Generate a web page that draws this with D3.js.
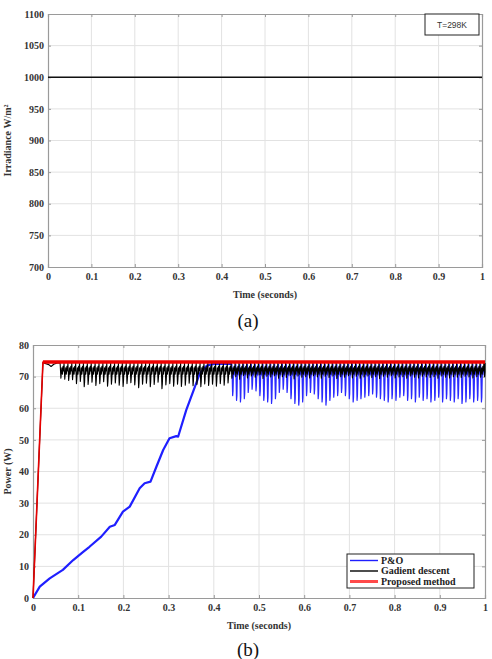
<!DOCTYPE html>
<html>
<head>
<meta charset="utf-8">
<script src="https://cdn.jsdelivr.net/npm/d3@7"></script>
<style>
  body { margin: 0; background: #fff; }
  svg text { font-family: "Liberation Serif", "DejaVu Serif", "Times New Roman", serif !important; }
  svg text.sans { font-family: "Liberation Sans", "DejaVu Sans", Arial, sans-serif !important; }
</style>
</head>
<body>
<div id="container"></div>
<script>
// ---- data ----
const timeTicks = [0, 0.1, 0.2, 0.3, 0.4, 0.5, 0.6, 0.7, 0.8, 0.9, 1];
const irrTicks = [700, 750, 800, 850, 900, 950, 1000, 1050, 1100];
const powerTicks = [0, 10, 20, 30, 40, 50, 60, 70, 80];

// irradiance, constant
const irrT = [0, 1];
const irrV = [1000, 1000];

// proposed method
const propT = [0, 0.022, 1];
const propP = [0, 74.6, 74.6];

// gradient descent: ramp, small dip, then spikes every 0.0086 s from 0.06 s
const gdStartT = [0, 0.022, 0.035, 0.04, 0.046, 0.055];
const gdStartP = [0, 74.4, 73.8, 73.2, 73.9, 74.4];
const gdSpikeStart = 0.06;
const gdSpikeStep = 0.0086;
const gdPeak = 74.3;
const gdTrough = [
  69.5, 69.2, 68.8, 69.0, 67.8, 68.5, 66.8, 67.5, 68.2, 67.2,
  67.8, 68.4, 67.0, 67.6, 68.0, 67.3, 66.9, 67.8, 68.1, 67.4,
  66.5, 67.6, 67.9, 66.8, 67.5, 68.2, 66.2, 67.4, 67.8, 67.0,
  67.6, 66.9, 67.3, 67.9, 67.1, 67.5, 66.8, 67.7, 67.2, 67.6,
  67.0, 67.8, 67.3, 68.0, 69.5, 70.0, 69.2, 70.4, 69.6, 70.2,
  69.8, 70.5, 69.4, 70.1, 69.9, 70.3, 69.5, 70.0, 69.7, 70.4,
  69.3, 70.2, 69.8, 70.0, 69.6, 70.3, 69.9, 69.5, 70.1, 69.7,
  70.2, 69.4, 70.0, 69.8, 70.3, 69.6, 70.1, 69.5, 69.9, 70.2,
  69.7, 70.0, 69.4, 70.1, 69.8, 70.3, 69.6, 69.9, 70.0, 69.5,
  70.2, 69.8, 69.6, 70.1, 69.9, 69.7, 70.0, 69.5, 70.2, 69.8,
  69.6, 70.0, 69.8, 69.7, 70.1, 69.9, 69.6, 70.0, 69.8, 70.0
];

// P&O: slow ramp, then oscillation from 0.44 s
const poRampT = [0, 0.015, 0.037, 0.066, 0.089, 0.111, 0.125, 0.151, 0.170, 0.181,
  0.199, 0.214, 0.236, 0.247, 0.260, 0.273, 0.288, 0.302, 0.317, 0.321,
  0.339, 0.361, 0.369, 0.385, 0.40, 0.44];
const poRampP = [0, 3.6, 6.2, 8.9, 12.0, 14.6, 16.2, 19.4, 22.5, 23.1,
  27.3, 28.9, 34.7, 36.3, 36.8, 41.5, 46.8, 50.5, 51.2, 51.0,
  59.4, 67.9, 71.0, 73.5, 74.0, 74.0];
const poSpikeStart = 0.44;
const poSpikeStep = 0.0086;
const poPeak = 74.0;
const poTrough = [
  64.0, 62.5, 62.0, 63.0, 65.0, 66.0, 65.5, 64.0, 62.5, 62.0,
  61.5, 63.0, 65.0, 66.0, 65.0, 63.0, 61.5, 61.0, 62.0, 64.0,
  65.0, 64.5, 63.0, 62.0, 61.0, 62.5, 63.5, 64.0, 65.0, 64.0,
  63.0, 62.0, 62.5, 63.0, 63.5, 64.0, 64.5, 63.5, 63.0, 62.5,
  62.0, 63.0, 62.5, 63.5, 64.0, 62.5, 63.0, 62.0, 63.5, 62.5,
  63.0, 62.0, 62.5, 63.5, 62.0, 63.0, 62.5, 62.0, 63.0, 61.5,
  62.0, 63.0, 62.0, 62.5, 62.0, 61.5
];

const legendNames = ["P&O", "Gadient descent", "Proposed method"];
const legendColors = ["#1f1fff", "#000", "#ff4a4a"];

// ---- build series ----
// one spike per step: drop to the trough, recover, then a dense ripple band near the top
function spikes(startT, step, peak, troughs) {
  const out = [];
  troughs.forEach((tr, i) => {
    const t0 = startT + i * step;
    out.push([t0, peak], [t0 + step * 0.2, tr], [t0 + step * 0.3, tr + 1.5],
      [t0 + step * 0.45, peak - 1.5], [t0 + step * 0.6, peak - 3.5],
      [t0 + step * 0.75, peak - 1], [t0 + step * 0.9, peak - 2.5]);
  });
  return out;
}

const irrData = irrT.map((t, i) => [t, irrV[i]]);
const propData = propT.map((t, i) => [t, propP[i]]);
const gdData = gdStartT.map((t, i) => [t, gdStartP[i]])
  .concat(spikes(gdSpikeStart, gdSpikeStep, gdPeak, gdTrough))
  .filter(d => d[0] <= 1);
gdData.push([1, gdPeak]);
const poRamp = poRampT.map((t, i) => [t, poRampP[i]]);
const poOsc = spikes(poSpikeStart, poSpikeStep, poPeak, poTrough).filter(d => d[0] <= 1);
poOsc.push([1, poPeak]);

// ---- drawing ----
const W = 492, H = 659;
const svg = d3.select("#container").append("svg")
  .attr("width", W).attr("height", H);

function panel(box, yDomain, yTicks, yLabel) {
  const x = d3.scaleLinear().domain([0, 1]).range([box.left, box.right]);
  const y = d3.scaleLinear().domain(yDomain).range([box.bottom, box.top]);
  const g = svg.append("g");

  // grid
  g.append("g").selectAll("line").data(timeTicks.slice(1, -1)).join("line")
    .attr("x1", d => x(d)).attr("x2", d => x(d))
    .attr("y1", box.top).attr("y2", box.bottom)
    .attr("stroke", "#e2e2e2").attr("stroke-width", 1);
  g.append("g").selectAll("line").data(yTicks.slice(1, -1)).join("line")
    .attr("y1", d => y(d)).attr("y2", d => y(d))
    .attr("x1", box.left).attr("x2", box.right)
    .attr("stroke", "#e2e2e2").attr("stroke-width", 1);

  // axes (MATLAB style, ticks inward)
  const xa = d3.axisBottom(x).tickValues(timeTicks).tickSize(-3).tickPadding(6)
    .tickFormat(d => d === 0 ? "0" : d === 1 ? "1" : d3.format(".1f")(d));
  const ya = d3.axisLeft(y).tickValues(yTicks).tickSize(-3).tickPadding(4).tickFormat(d3.format("d"));
  const gx = g.append("g").attr("transform", `translate(0,${box.bottom})`).call(xa);
  const gy = g.append("g").attr("transform", `translate(${box.left},0)`).call(ya);
  g.append("g").attr("transform", `translate(0,${box.top})`)
    .call(d3.axisTop(x).tickValues(timeTicks).tickSize(-3).tickFormat(""));
  g.append("g").attr("transform", `translate(${box.right},0)`)
    .call(d3.axisRight(y).tickValues(yTicks).tickSize(-3).tickFormat(""));
  g.selectAll(".domain").attr("stroke", "#9a9a9a").attr("stroke-width", 1.2);
  g.selectAll(".tick line").attr("stroke", "#9a9a9a");
  [gx, gy].forEach(a => a.selectAll("text")
    .attr("font-weight", "bold").attr("font-size", 10).attr("fill", "#333"));

  g.append("text")
    .attr("x", (box.left + box.right) / 2).attr("y", box.bottom + 31)
    .attr("text-anchor", "middle").attr("font-weight", "bold")
    .attr("font-size", 10).attr("fill", "#333").text("Time (seconds)");
  g.append("text")
    .attr("transform", `translate(11,${(box.top + box.bottom) / 2}) rotate(-90)`)
    .attr("text-anchor", "middle").attr("font-weight", "bold")
    .attr("font-size", 10).attr("fill", "#333").text(yLabel);

  const line = d3.line().x(d => x(d[0])).y(d => y(d[1]));
  return { x, y, g, line };
}

// (a) irradiance
const pa = panel({ left: 48, right: 482, top: 14, bottom: 267 }, [700, 1100], irrTicks, "Irradiance W/m²");
pa.g.append("path").datum(irrData).attr("d", pa.line)
  .attr("fill", "none").attr("stroke", "#111").attr("stroke-width", 1.5);
pa.g.append("rect").attr("x", 425).attr("y", 14).attr("width", 54).attr("height", 21)
  .attr("fill", "#fff").attr("stroke", "#222").attr("stroke-width", 1);
pa.g.append("text").attr("class", "sans").attr("x", 452).attr("y", 28).attr("text-anchor", "middle")
  .attr("font-size", 8.5).attr("fill", "#333").text("T=298K");
svg.append("text").attr("x", 248).attr("y", 327).attr("text-anchor", "middle")
  .attr("font-size", 19).attr("fill", "#111").text("(a)");

// (b) power
const pb = panel({ left: 33, right: 485, top: 345, bottom: 598 }, [0, 80], powerTicks, "Power (W)");
const series = [
  { data: poRamp, color: "#1f1fff", w: 2.2 },
  { data: poOsc, color: "#2a2aff", w: 1.2 },
  { data: gdData, color: "#000", w: 1.1 },
  { data: propData, color: "#e80000", w: 1.6 },
  { data: propData.slice(1), color: "#ee0000", w: 3.5 }
];
pb.g.append("g").selectAll("path").data(series).join("path")
  .attr("d", d => pb.line(d.data))
  .attr("fill", "none").attr("stroke", d => d.color).attr("stroke-width", d => d.w)
  .attr("stroke-linejoin", "round");

// legend
const lg = pb.g.append("g").attr("transform", "translate(347,554)");
lg.append("rect").attr("width", 127).attr("height", 34)
  .attr("fill", "#fff").attr("stroke", "#222").attr("stroke-width", 1);
legendNames.forEach((name, i) => {
  const yy = 6.5 + i * 10.5;
  lg.append("line").attr("x1", 3).attr("x2", 31).attr("y1", yy).attr("y2", yy)
    .attr("stroke", legendColors[i]).attr("stroke-width", i === 2 ? 3 : 1.4);
  lg.append("text").attr("x", 34).attr("y", yy + 3.3)
    .attr("font-weight", "bold").attr("font-size", 10).attr("fill", "#222").text(name);
});
svg.append("text").attr("x", 248).attr("y", 656).attr("text-anchor", "middle")
  .attr("font-size", 19).attr("fill", "#111").text("(b)");
</script>
</body>
</html>
